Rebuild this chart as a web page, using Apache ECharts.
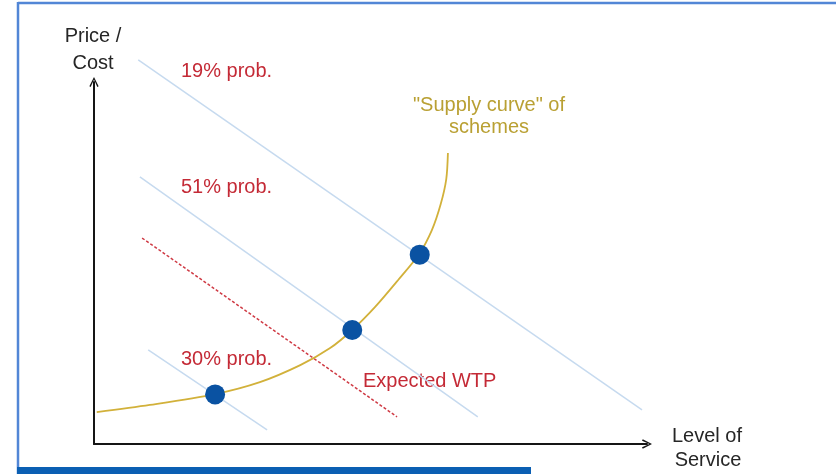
<!DOCTYPE html>
<html>
<head>
<meta charset="utf-8">
<script src="https://cdn.jsdelivr.net/npm/echarts@6/dist/echarts.min.js"></script>
<style>
  html, body { margin: 0; padding: 0; background: #fff; }
  #chart { width: 836px; height: 474px; }
</style>
</head>
<body>
<div id="chart"></div>
<script>
// supply curve of schemes (level of service vs price/cost, arbitrary units 0-100)
const supplyX = [0.5, 10.1, 21.9, 30.0, 37.3, 42.7, 46.7, 50.8, 55.0, 58.8, 61.1, 62.7, 63.7, 64.0];
const supplyY = [8.8, 10.8, 13.8, 17.1, 21.8, 26.5, 31.5, 37.8, 45.3, 52.5, 59.1, 66.3, 73.2, 80.4];

// the three schemes on the curve
const schemeX = [21.9, 46.7, 58.9];
const schemeY = [13.7, 31.5, 52.3];

// willingness-to-pay lines (start, end)
const wtp19X = [8.0, 99.1];
const wtp19Y = [106.1, 9.4];
const wtp51X = [8.3, 69.4];
const wtp51Y = [73.8, 7.5];
const wtp30X = [9.8, 31.3];
const wtp30Y = [26.0, 3.9];
const expectedX = [8.7, 54.8];
const expectedY = [56.9, 7.5];

const pairs = (xs, ys) => xs.map((x, i) => [x, ys[i]]);

const font = '"Liberation Sans", Arial, sans-serif';
const red = '#c42a36';
const gold = '#b9a033';
const chevron = 'path://M0,10 L5,0 L10,10 L8.6,10.8 L5,2.8 L1.4,10.8 Z';

function wtpLine(xs, ys) {
  return {
    type: 'line',
    data: pairs(xs, ys),
    symbol: 'none',
    clip: false,
    silent: true,
    lineStyle: { color: '#c6daef', width: 1.5 },
    z: 1
  };
}

function label(text, x, y, color, align) {
  return {
    type: 'text', x: x, y: y,
    style: { text: text, font: '20px ' + font, fill: color, align: align || 'left', verticalAlign: 'middle' }
  };
}

var myChart = echarts.init(document.getElementById('chart'));
myChart.setOption({
  animation: false,
  grid: { left: 94, top: 82, right: 189, bottom: 30 },
  xAxis: {
    type: 'value', min: 0, max: 100,
    axisLine: { show: true, symbol: ['none', chevron], symbolSize: [13, 10], lineStyle: { color: '#151515', width: 2 } },
    axisTick: { show: false }, axisLabel: { show: false }, splitLine: { show: false }
  },
  yAxis: {
    type: 'value', min: 0, max: 100,
    axisLine: { show: true, symbol: ['none', chevron], symbolSize: [13, 10], lineStyle: { color: '#151515', width: 2 } },
    axisTick: { show: false }, axisLabel: { show: false }, splitLine: { show: false }
  },
  series: [
    wtpLine(wtp19X, wtp19Y),
    wtpLine(wtp51X, wtp51Y),
    wtpLine(wtp30X, wtp30Y),
    {
      type: 'line',
      data: pairs(expectedX, expectedY),
      symbol: 'none',
      clip: false,
      lineStyle: { color: '#cf3a44', width: 1.5, type: [3, 2] },
      z: 2
    },
    {
      type: 'line',
      data: pairs(supplyX, supplyY),
      smooth: 0.3,
      symbol: 'none',
      clip: false,
      lineStyle: { color: '#d2b13a', width: 1.8 },
      z: 3
    },
    {
      type: 'scatter',
      data: pairs(schemeX, schemeY),
      symbolSize: 20,
      itemStyle: { color: '#0a52a2', opacity: 1 },
      z: 4
    }
  ],
  graphic: [
    // frame
    { type: 'line', shape: { x1: 18, y1: 3, x2: 836, y2: 3 }, style: { stroke: '#5286d6', lineWidth: 2.5 } },
    { type: 'line', shape: { x1: 18, y1: 2, x2: 18, y2: 474 }, style: { stroke: '#5286d6', lineWidth: 2.5 } },
    { type: 'rect', shape: { x: 17, y: 467, width: 514, height: 7 }, style: { fill: '#0b5fb3' } },
    // axis titles
    label('Price /', 93, 36, '#262626', 'center'),
    label('Cost', 93, 63, '#262626', 'center'),
    label('Level of', 707, 436, '#262626', 'center'),
    label('Service', 708, 460, '#262626', 'center'),
    // probability labels
    label('19% prob.', 181, 71, red),
    label('51% prob.', 181, 187, red),
    label('30% prob.', 181, 359, red),
    label('Expected WTP', 363, 381, red),
    // supply curve label
    label('"Supply curve" of', 489, 105, gold, 'center'),
    label('schemes', 489, 127, gold, 'center')
  ]
});
</script>
</body>
</html>
